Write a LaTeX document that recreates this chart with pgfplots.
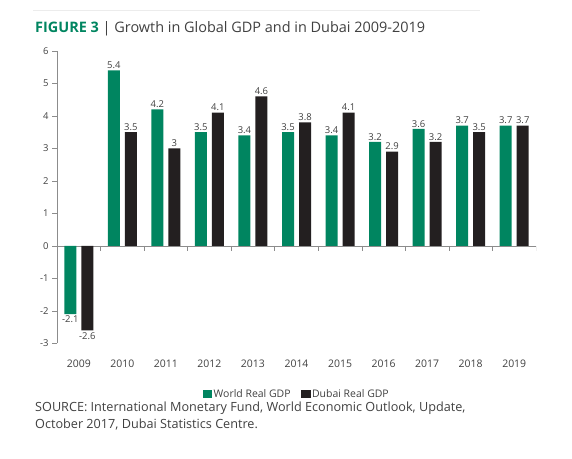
\documentclass[border=0pt]{standalone}
\usepackage{fontspec}
\setmainfont{Open Sans}
\usepackage{pgfplots}
\pgfplotsset{compat=1.18}
\definecolor{wgreen}{RGB}{0,133,96}
\definecolor{dblack}{RGB}{35,31,32}
\definecolor{txt}{RGB}{64,64,64}
\definecolor{axgray}{RGB}{140,140,140}
\begin{document}
\begin{tikzpicture}[x=1bp,y=1bp]
\useasboundingbox (0,0) rectangle (572,459);
\draw[gray!15, line width=0.6bp] (33,449) -- (480,449);
\node[anchor=base west, inner sep=0, font=\fontsize{14.5}{16}\selectfont, text=txt] at (35,426) {\textcolor{wgreen}{\bfseries FIGURE 3} | Growth in Global GDP and in Dubai 2009-2019};
\begin{axis}[
  at={(57bp,115.5bp)}, anchor=south west,
  scale only axis, width=479bp, height=292.5bp,
  ybar=5bp, bar width=12bp,
  xmin=-0.5, xmax=10.5, ymin=-3, ymax=6,
  axis y line*=left, axis x line*=bottom,
  x axis line style={draw=none},
  y axis line style={axgray, line width=0.6bp},
  xtick={0,...,10},
  xticklabels={2009,2010,2011,2012,2013,2014,2015,2016,2017,2018,2019},
  major x tick style={draw=none},
  xticklabel style={yshift=-8bp, font=\fontsize{10.5}{12}\selectfont},
  ytick={-3,...,6},
  tick align=outside, major tick length=5bp,
  ytick style={axgray, line width=0.6bp},
  tick label style={font=\fontsize{9.5}{11}\selectfont, text=txt},
  /pgf/number format/assume math mode=true,
  nodes near coords,
  nodes near coords style={font=\fontsize{9.5}{10}\selectfont, text=txt, /pgf/number format/fixed, /pgf/number format/precision=1, inner sep=1.5bp},
  legend style={draw=none, fill=none, at={(0.5,-0.173)}, anchor=center, legend columns=2,
    font=\fontsize{10.5}{12}\selectfont, text=txt,
    nodes={inner sep=1.5bp}},
]
\draw[axgray, line width=0.6bp] (axis cs:-0.5,0) -- (axis cs:10.5,0);
\pgfplotsinvokeforeach{0.5,1.5,2.5,3.5,4.5,5.5,6.5,7.5,8.5,9.5,10.5}{
  \draw[axgray, line width=0.6bp] (axis cs:#1,0) -- ++(0bp,-5bp);
}
\addplot[fill=wgreen, draw=none, legend image code/.code={\fill[wgreen] (6.5bp,-4bp) rectangle (16bp,4.5bp);}] coordinates {
 (0,-2.1) (1,5.4) (2,4.2) (3,3.5) (4,3.4) (5,3.5) (6,3.4) (7,3.2) (8,3.6) (9,3.7) (10,3.7)};
\addlegendentry{World Real GDP\rule{9bp}{0bp}}
\addplot[fill=dblack, draw=none, legend image code/.code={\fill[dblack] (6.5bp,-4bp) rectangle (16bp,4.5bp);}] coordinates {
 (0,-2.6) (1,3.5) (2,3.0) (3,4.1) (4,4.6) (5,3.8) (6,4.1) (7,2.9) (8,3.2) (9,3.5) (10,3.7)};
\addlegendentry{Dubai Real GDP}
\end{axis}
\node[anchor=base west, inner sep=0, align=left, font=\fontsize{12.7}{18}\selectfont, text=txt] at (35,30) {SOURCE: International Monetary Fund, World Economic Outlook, Update,\\October 2017, Dubai Statistics Centre.};
\end{tikzpicture}
\end{document}
